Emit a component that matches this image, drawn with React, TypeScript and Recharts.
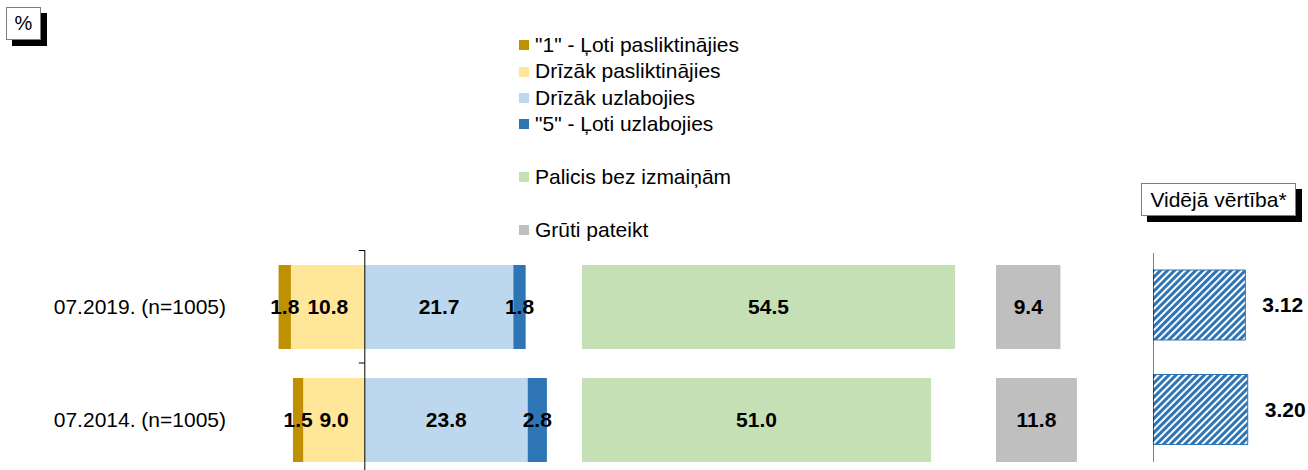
import React from "react";
import { BarChart, Bar, XAxis, YAxis, LabelList, ReferenceLine } from "recharts";

const FONT = '"Liberation Sans", Arial, Helvetica, sans-serif';

const periods = ["07.2019. (n=1005)", "07.2014. (n=1005)"];
const veryWorse = [1.8, 1.5];
const ratherWorse = [10.8, 9.0];
const ratherBetter = [21.7, 23.8];
const veryBetter = [1.8, 2.8];
const unchanged = [54.5, 51.0];
const hardToSay = [9.4, 11.8];
const meanScore = [3.12, 3.2];

const legendNames = [
  '"1" - Ļoti pasliktinājies',
  "Drīzāk pasliktinājies",
  "Drīzāk uzlabojies",
  '"5" - Ļoti uzlabojies',
  "",
  "Palicis bez izmaiņām",
  "",
  "Grūti pateikt",
];
const legendColors = ["#BF9000", "#FFE699", "#BDD7EE", "#2E75B6", "", "#C5E0B4", "", "#BFBFBF"];

const rows = periods.map((period, i) => ({
  period,
  veryWorse: -veryWorse[i],
  ratherWorse: -ratherWorse[i],
  ratherBetter: ratherBetter[i],
  veryBetter: veryBetter[i],
  unchanged: unchanged[i],
  hardToSay: hardToSay[i],
  mean: meanScore[i],
}));

const labelStyle = { fontFamily: FONT, fontSize: 21, fontWeight: 700, fill: "#000" };
const pct = (v: any) => Math.abs(Number(v)).toFixed(1);

// axis line with small ticks on the category boundaries (Excel style)
function AxisWithTicks(props: any) {
  const { x1, y1, x2, y2 } = props;
  const top = Math.min(y1, y2);
  const mid = (y1 + y2) / 2;
  return (
    <g>
      <line x1={x1} y1={y1} x2={x2} y2={y2} stroke="#000" strokeWidth={1} />
      <line x1={x1 - 6} y1={top + 0.5} x2={x1} y2={top + 0.5} stroke="#000" />
      <line x1={x1 - 6} y1={mid} x2={x1} y2={mid} stroke="#000" />
    </g>
  );
}

const boxStyle: React.CSSProperties = {
  position: "absolute",
  background: "#fff",
  border: "1px solid #7f7f7f",
  boxShadow: "6px 6px 0 #000",
  boxSizing: "border-box",
  display: "flex",
  alignItems: "center",
  justifyContent: "center",
  fontSize: 21,
  color: "#000",
};

const TOP = 250;
const PLOT_H = 226;

export default function App() {
  return (
    <div
      style={{
        position: "absolute",
        left: 0,
        top: 0,
        width: 1308,
        height: 470,
        overflow: "hidden",
        background: "#fff",
        fontFamily: FONT,
      }}
    >
      <div style={{ ...boxStyle, left: 6, top: 7, width: 35, height: 33, fontSize: 20 }}>%</div>
      <div style={{ ...boxStyle, left: 1141, top: 183, width: 155, height: 33 }}>Vidējā vērtība*</div>

      <div style={{ position: "absolute", left: 519, top: 32, fontSize: 21, lineHeight: "26.4px", color: "#000" }}>
        {legendNames.map((name, i) => (
          <div key={i} style={{ display: "flex", alignItems: "center", height: 26.4 }}>
            {name && (
              <>
                <span style={{ width: 10, height: 10, background: legendColors[i], marginRight: 6, display: "inline-block" }} />
                <span>{name}</span>
              </>
            )}
          </div>
        ))}
      </div>

      {/* diverging part */}
      <div style={{ position: "absolute", left: 0, top: 0 }}>
        <BarChart
          width={577}
          height={TOP + PLOT_H}
          data={rows}
          layout="vertical"
          stackOffset="sign"
          barSize={84}
          margin={{ top: TOP, right: 0, bottom: 0, left: 0 }}
        >
          <XAxis type="number" domain={[-14, 31]} hide allowDataOverflow />
          <YAxis
            type="category"
            dataKey="period"
            width={269}
            axisLine={false}
            tickLine={false}
            tickSize={0}
            tickMargin={43}
            tick={{ fontFamily: FONT, fontSize: 21, fill: "#000" }}
          />
          <Bar dataKey="ratherWorse" stackId="a" fill="#FFE699" isAnimationActive={false}>
            <LabelList dataKey="ratherWorse" position="center" formatter={pct} style={labelStyle} />
          </Bar>
          <Bar dataKey="veryWorse" stackId="a" fill="#BF9000" isAnimationActive={false}>
            <LabelList dataKey="veryWorse" position="center" formatter={pct} style={labelStyle} />
          </Bar>
          <Bar dataKey="ratherBetter" stackId="a" fill="#BDD7EE" isAnimationActive={false}>
            <LabelList dataKey="ratherBetter" position="center" formatter={pct} style={labelStyle} />
          </Bar>
          <Bar dataKey="veryBetter" stackId="a" fill="#2E75B6" isAnimationActive={false}>
            <LabelList dataKey="veryBetter" position="center" formatter={pct} style={labelStyle} />
          </Bar>
          <ReferenceLine x={0} shape={<AxisWithTicks />} />
        </BarChart>
      </div>

      {/* unchanged */}
      <div style={{ position: "absolute", left: 582, top: 0 }}>
        <BarChart
          width={397}
          height={TOP + PLOT_H}
          data={rows}
          layout="vertical"
          barSize={84}
          margin={{ top: TOP, right: 0, bottom: 0, left: 0 }}
        >
          <XAxis type="number" domain={[0, 58]} hide />
          <YAxis type="category" dataKey="period" hide width={0} />
          <Bar dataKey="unchanged" fill="#C5E0B4" isAnimationActive={false}>
            <LabelList dataKey="unchanged" position="center" formatter={pct} style={labelStyle} />
          </Bar>
        </BarChart>
      </div>

      {/* hard to say */}
      <div style={{ position: "absolute", left: 996, top: 0 }}>
        <BarChart
          width={96}
          height={TOP + PLOT_H}
          data={rows}
          layout="vertical"
          barSize={84}
          margin={{ top: TOP, right: 0, bottom: 0, left: 0 }}
        >
          <XAxis type="number" domain={[0, 14]} hide />
          <YAxis type="category" dataKey="period" hide width={0} />
          <Bar dataKey="hardToSay" fill="#BFBFBF" isAnimationActive={false}>
            <LabelList dataKey="hardToSay" position="center" formatter={pct} style={labelStyle} />
          </Bar>
        </BarChart>
      </div>

      {/* mean score */}
      <div style={{ position: "absolute", left: 1153, top: 0 }}>
        <BarChart
          width={155}
          height={470}
          data={rows}
          layout="vertical"
          barSize={70}
          margin={{ top: 253, right: 7, bottom: 8, left: 0 }}
        >
          <defs>
            <pattern id="hatch" width={5} height={5} patternUnits="userSpaceOnUse" patternTransform="rotate(45)">
              <rect width={5} height={5} fill="#fff" />
              <rect width={3} height={5} fill="#2E75B6" />
            </pattern>
          </defs>
          <XAxis type="number" domain={[0, 5]} hide />
          <YAxis type="category" dataKey="period" hide width={0} />
          <Bar dataKey="mean" fill="url(#hatch)" stroke="#2E75B6" strokeWidth={1} isAnimationActive={false}>
            <LabelList
              dataKey="mean"
              position="right"
              offset={17}
              formatter={(v: any) => Number(v).toFixed(2)}
              style={labelStyle}
            />
          </Bar>
          <ReferenceLine x={0} shape={<AxisWithTicks />} />
        </BarChart>
      </div>
    </div>
  );
}
